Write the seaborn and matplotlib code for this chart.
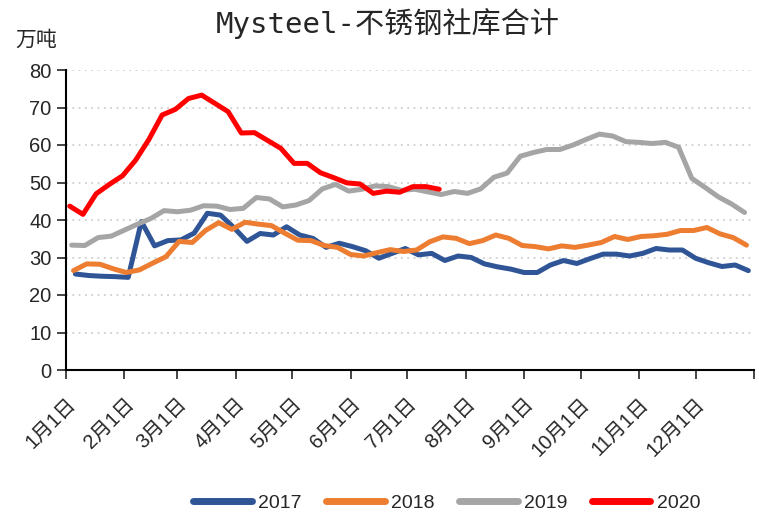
import pandas as pd
import numpy as np
import matplotlib
matplotlib.use("Agg")
import matplotlib.pyplot as plt
import seaborn as sns

# weekly inventory, 万吨
vals_2017 = [25.6, 25.2, 25.0, 24.9, 24.7, 39.6, 33.1, 34.5, 34.7, 36.5,
             41.8, 41.3, 38.0, 34.3, 36.4, 36.0, 38.2, 36.0, 35.1, 32.7,
             33.8, 32.9, 31.8, 29.8, 31.1, 32.4, 30.7, 31.1, 29.2, 30.4,
             30.0, 28.3, 27.5, 26.9, 26.0, 26.0, 28.0, 29.2, 28.4, 29.7,
             30.9, 30.9, 30.4, 31.1, 32.4, 32.0, 32.0, 29.8, 28.6, 27.6,
             28.0, 26.5]
vals_2018 = [26.5, 28.3, 28.2, 27.0, 26.0, 26.7, 28.5, 30.2, 34.3, 34.0,
             37.2, 39.3, 37.5, 39.4, 38.9, 38.5, 36.5, 34.6, 34.5, 33.2,
             32.7, 30.8, 30.4, 31.3, 32.1, 31.6, 32.0, 34.2, 35.5, 35.1,
             33.7, 34.5, 36.0, 35.1, 33.2, 32.9, 32.3, 33.1, 32.7, 33.3,
             34.0, 35.6, 34.8, 35.6, 35.8, 36.2, 37.2, 37.2, 38.0, 36.3,
             35.3, 33.3]
vals_2019 = [33.3, 33.2, 35.3, 35.7, 37.3, 38.9, 40.4, 42.5, 42.2, 42.6,
             43.8, 43.7, 42.8, 43.1, 46.0, 45.6, 43.5, 44.0, 45.2, 48.3,
             49.5, 47.7, 48.2, 49.1, 48.9, 47.9, 48.2, 47.5, 46.8, 47.6,
             47.1, 48.3, 51.4, 52.5, 57.0, 58.0, 58.8, 58.8, 60.0, 61.5,
             62.9, 62.4, 60.9, 60.7, 60.4, 60.7, 59.4, 51.1, 48.7, 46.2,
             44.3, 42.0]
vals_2020 = [43.7, 41.5, 47.0, 49.5, 51.8, 56.0, 61.5, 68.0, 69.5, 72.4,
             73.3, 71.1, 68.9, 63.2, 63.3, 61.2, 59.1, 55.1, 55.1, 52.6,
             51.3, 49.9, 49.6, 47.1, 47.7, 47.4, 48.9, 48.9, 48.2]

years = ["2017", "2018", "2019", "2020"]
first_dates = ["2017-01-06", "2018-01-05", "2019-01-04", "2020-01-03"]
series = [vals_2017, vals_2018, vals_2019, vals_2020]
colors = ["#2F5597", "#ED7D31", "#A5A5A5", "#FF0000"]

month_labels = ["1月1日", "2月1日", "3月1日", "4月1日", "5月1日", "6月1日",
                "7月1日", "8月1日", "9月1日", "10月1日", "11月1日", "12月1日", ""]

# build long table, x = days since Jan 1 of each year
rows = []
for yr, start, vals in zip(years, first_dates, series):
    dates = pd.date_range(start, periods=len(vals), freq="7D")
    day = (dates - pd.Timestamp(f"{yr}-01-01")).days
    rows.append(pd.DataFrame({"day": day, "value": vals, "year": yr}))
df = pd.concat(rows, ignore_index=True)

sns.set_style("white")
plt.rcParams["font.family"] = ["Liberation Sans", "Noto Sans CJK SC", "DejaVu Sans"]

fig = plt.figure(figsize=(7.59, 5.14), dpi=100)
ax = fig.add_axes([66 / 759, 1 - 370 / 514, (754 - 66) / 759, 300 / 514])

sns.lineplot(data=df, x="day", y="value", hue="year", hue_order=years,
             palette=dict(zip(years, colors)), linewidth=3.6, ax=ax,
             solid_capstyle="round", solid_joinstyle="round")

month_pos = (pd.date_range("2017-01-01", periods=13, freq="MS")
             - pd.Timestamp("2017-01-01")).days
ax.set_xlim(0, 365)
ax.set_ylim(0, 80)
ax.set_xticks(month_pos)
ax.set_xticklabels(month_labels, rotation=45, ha="right", rotation_mode="anchor",
                   fontsize=14.5)
ax.set_yticks(range(0, 81, 10))
ax.tick_params(axis="y", labelsize=14.5, length=6.5, width=1.2, direction="out",
               left=True, pad=4)
ax.tick_params(axis="x", length=6.5, width=1.2, direction="out", bottom=True, pad=11)
ax.set_xlabel("")
ax.set_ylabel("")

for y in range(10, 81, 10):
    ax.axhline(y, color="#CFCFCF", linestyle=(0, (1, 2.5)), linewidth=1.3, zorder=0)

for side in ["top", "right"]:
    ax.spines[side].set_visible(False)
for side in ["left", "bottom"]:
    ax.spines[side].set_color("black")
    ax.spines[side].set_linewidth(1.5)

handles, labels = ax.get_legend_handles_labels()
ax.get_legend().remove()
for h in handles:
    h.set_linewidth(5)
    h.set_solid_capstyle("round")
fig.legend(handles, labels, loc="center", bbox_to_anchor=(447 / 759, 1 - 503 / 514),
           ncol=4, frameon=False, fontsize=14, handlelength=3.0, columnspacing=1.25,
           handletextpad=0.35)

fig.text(388 / 759, 1 - 24 / 514, "Mysteel-不锈钢社库合计", ha="center", va="center",
         fontsize=21, family=["DejaVu Sans Mono", "Noto Sans CJK SC"])
fig.text(15 / 759, 1 - 40 / 514, "万吨", ha="left", va="center", fontsize=15,
         family=["Noto Sans CJK SC"])

fig.savefig("out.png", dpi=100)
